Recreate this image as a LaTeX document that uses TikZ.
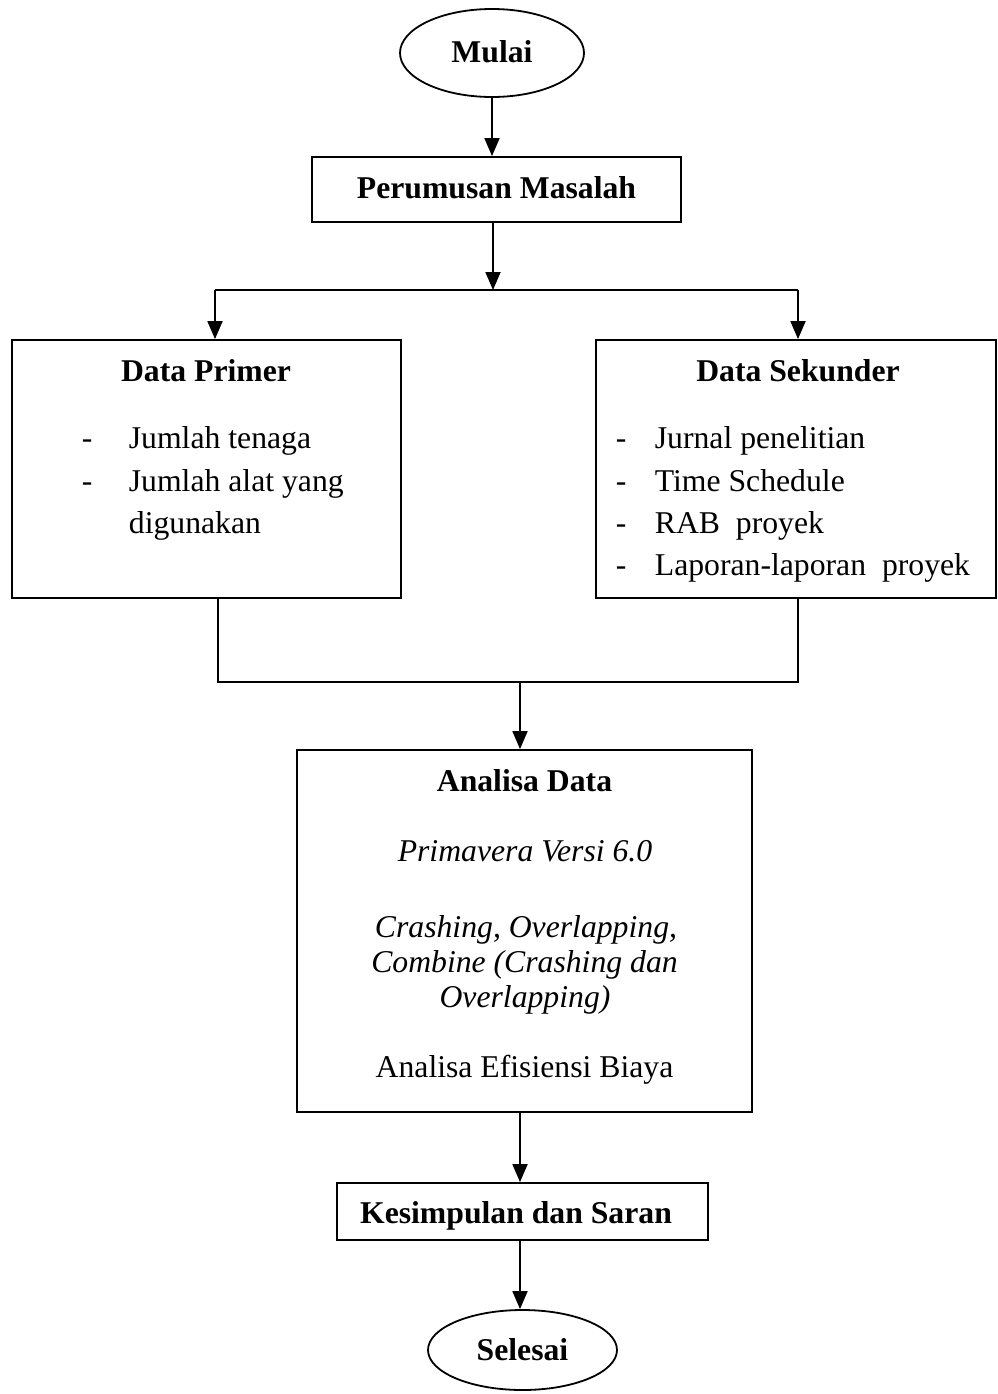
\documentclass[tikz,border=0pt]{standalone}
\usepackage{fontspec}
\setmainfont{Liberation Serif}
\usetikzlibrary{arrows.meta,shapes.geometric}
\begin{document}
\begin{tikzpicture}[x=1pt,y=-1pt,line width=1.8pt,
  box/.style={draw,rectangle,inner sep=0pt},
  oval/.style={draw,ellipse,inner sep=0pt},
  txt/.style={inner sep=0pt,anchor=base,font=\fontsize{31.7}{38}\selectfont},
  ltxt/.style={inner sep=0pt,anchor=base west,font=\fontsize{31.7}{38}\selectfont},
  arr/.style={-{Triangle[length=18pt,width=15pt]}}]
\useasboundingbox (0,0) rectangle (997,1394);
% shapes
\node[oval,minimum width=184pt,minimum height=88pt] (mulai) at (492,53) {};
\node[box,minimum width=369pt,minimum height=65pt] (perumusan) at (496.5,189.5) {};
\node[box,minimum width=389pt,minimum height=258pt] (primer) at (206.5,469) {};
\node[box,minimum width=400pt,minimum height=258pt] (sekunder) at (796,469) {};
\node[box,minimum width=455pt,minimum height=362pt] (analisa) at (524.5,931) {};
\node[box,minimum width=371pt,minimum height=57pt] (kesimpulan) at (522.5,1211.5) {};
\node[oval,minimum width=189pt,minimum height=80pt] (selesai) at (522.5,1350) {};
% texts
\node[txt] (tmulai) at (492,63) {\bfseries Mulai};
\node[txt] (tper) at (496.5,198) {\bfseries Perumusan Masalah};
\node[txt] (tprim) at (206,381) {\bfseries Data Primer};
\node[ltxt] (p1d) at (81,448) {-};
\node[ltxt] (p1) at (128,448) {Jumlah tenaga};
\node[ltxt] (p2d) at (81,491) {-};
\node[ltxt] (p2) at (128,491) {Jumlah alat yang};
\node[ltxt] (p3) at (128,533) {digunakan};
\node[txt] (tsek) at (798,381) {\bfseries Data Sekunder};
\node[ltxt] (s1d) at (615,448) {-};
\node[ltxt] (s1) at (654,448) {Jurnal penelitian};
\node[ltxt] (s2d) at (615,491) {-};
\node[ltxt] (s2) at (654,491) {Time Schedule};
\node[ltxt] (s3d) at (615,533) {-};
\node[ltxt] (s3) at (654,533) {RAB\ \ proyek};
\node[ltxt] (s4d) at (615,575) {-};
\node[ltxt] (s4) at (654,575) {Laporan-laporan\ \ proyek};
\node[txt] (tana) at (524.5,791) {\bfseries Analisa Data};
\node[txt] (a1) at (525,861) {\itshape Primavera Versi 6.0};
\node[txt] (a2) at (526,937) {\itshape Crashing, Overlapping,};
\node[txt] (a3) at (524.5,972) {\itshape Combine (Crashing dan};
\node[txt] (a4) at (525,1007) {\itshape Overlapping)};
\node[txt] (a5) at (524.5,1077) {Analisa Efisiensi Biaya};
\node[txt] (tkes) at (516,1223) {\bfseries Kesimpulan dan Saran};
\node[txt] (tsel) at (522.5,1360) {\bfseries Selesai};
% connectors
\coordinate (j1) at (493,290);
\coordinate (jl) at (215,290);
\coordinate (jr) at (798,290);
\coordinate (bl) at (218,682);
\coordinate (br) at (798,682);
\coordinate (bm) at (520,682);
\draw[arr] (mulai.south) -- (mulai.south |- perumusan.north);
\draw[arr] (perumusan.south -| j1) -- (j1);
\draw (jl) -- (jr);
\draw[arr] (jl) -- (jl |- primer.north);
\draw[arr] (jr) -- (jr |- sekunder.north);
\draw (bl |- primer.south) -- (bl) -- (br) -- (br |- sekunder.south);
\draw[arr] (bm) -- (bm |- analisa.north);
\draw[arr] (bm |- analisa.south) -- (bm |- kesimpulan.north);
\draw[arr] (bm |- kesimpulan.south) -- (bm |- selesai.north);
\end{tikzpicture}
\end{document}
